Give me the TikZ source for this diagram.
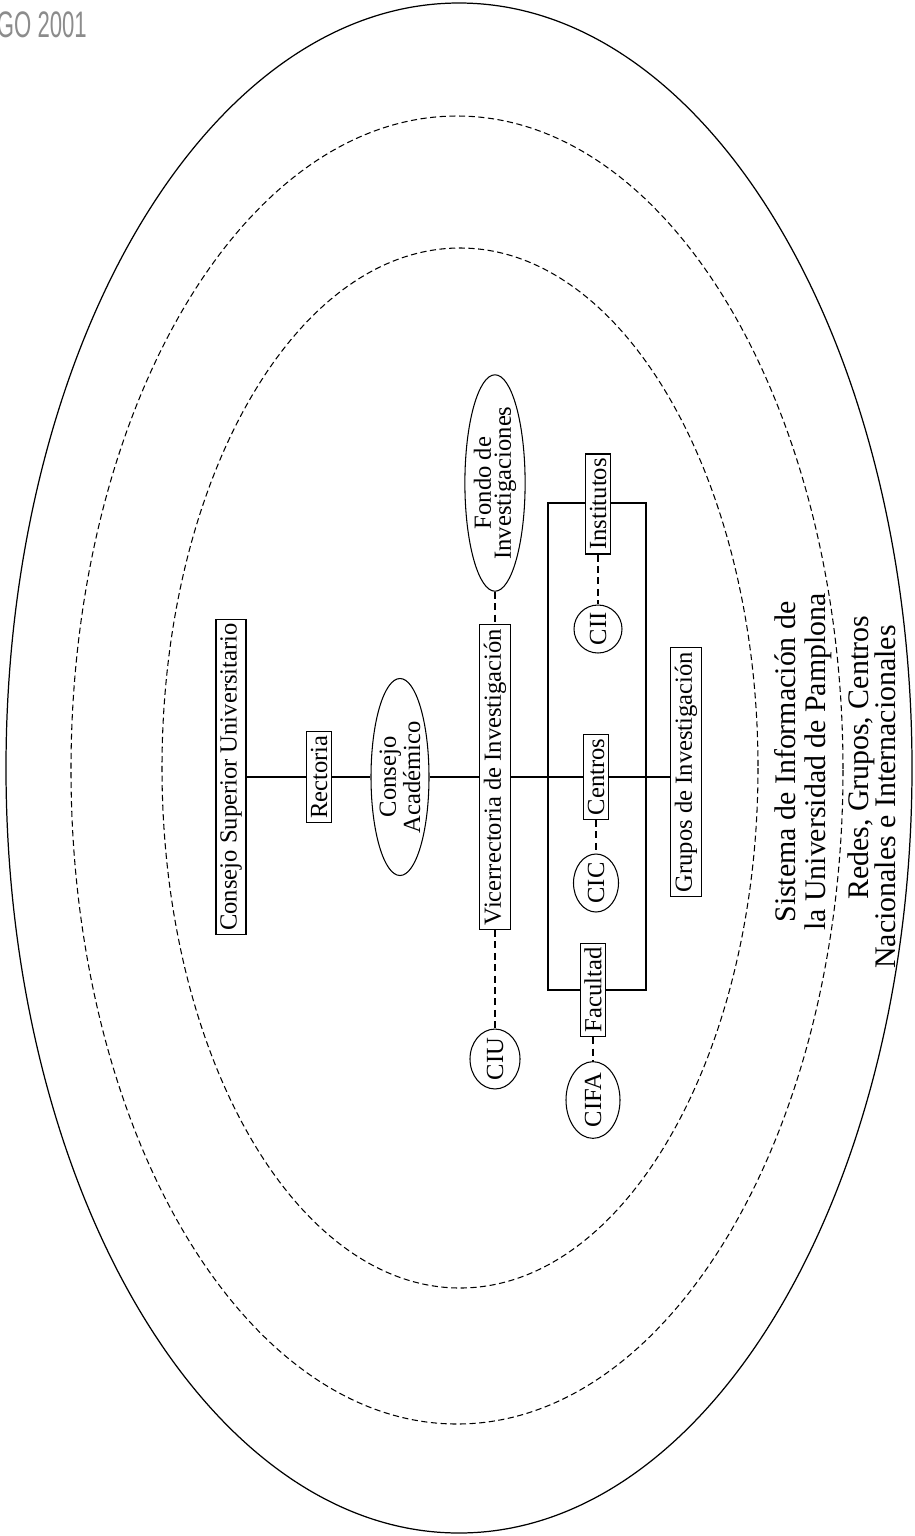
\documentclass[tikz,border=0pt]{standalone}
\usepackage{fontspec}
\setmainfont{Liberation Serif}
\newfontfamily\stampfont{Liberation Sans}
\usetikzlibrary{shapes.geometric}
\begin{document}
\begin{tikzpicture}[x=0.2mm,y=-0.2mm,
  orgbox/.style={draw, fill=white, rotate=90, line width=0.6pt, inner xsep=2.4pt, inner ysep=2.4pt, font=\fontsize{14}{14}\selectfont},
  orgoval/.style={draw, fill=white, ellipse, rotate=90, line width=0.6pt, inner sep=0pt, align=center, font=\fontsize{14}{11.5}\selectfont},
  ring/.style={line width=0.6pt, dash pattern=on 3.5pt off 2pt},
  solidring/.style={line width=0.7pt},
  link/.style={line width=0.6pt},
  dlink/.style={line width=0.6pt, dash pattern=on 4pt off 2.5pt},
  bigtext/.style={rotate=90, anchor=base, inner sep=0pt, font=\fontsize{17}{17}\selectfont},
  stamp/.style={anchor=base east, inner sep=0pt, text=black!45, font=\stampfont\fontsize{21}{21}\selectfont, xscale=0.6}]

\useasboundingbox (0,0) rectangle (915,1536);

% rings
\draw[solidring] (459,768) ellipse [x radius=453, y radius=765];
\draw[ring] (457,770) ellipse [x radius=386, y radius=654];
\draw[ring] (460,768) ellipse [x radius=298, y radius=520];

% bracket frame
\draw[link] (548,503) rectangle (646,990);

% nodes
\node[orgbox] (csu) at (231,777) {Consejo Superior Universitario};
\node[orgbox] (rec) at (319,777) {Rectoria};
\node[orgoval, minimum width=39.4mm, minimum height=11.6mm] (ca) at (400,777) {Consejo\\Académico};
\node[orgbox] (vice) at (495,777) {Vicerrectoria de Investigación};
\node[orgoval, minimum width=39.4mm, minimum height=11.4mm] (fondo) at (495,483) {Fondo de\\Investigaciones};
\node[orgoval, minimum width=11.6mm, minimum height=10mm] (ciu) at (495,1059) {CIU};
\node[orgbox] (inst) at (598,504) {Institutos};
\node[orgoval, minimum width=9.6mm, minimum height=9.6mm] (cii) at (598,629) {CII};
\node[orgbox] (cent) at (596,777) {Centros};
\node[orgoval, minimum width=11.4mm, minimum height=9mm] (cic) at (596,883) {CIC};
\node[orgbox] (fac) at (593,990) {Facultad};
\node[orgoval, minimum width=14mm, minimum height=10.8mm] (cifa) at (593,1100) {CIFA};
\node[orgbox] (grp) at (686,772) {Grupos de Investigación};

% spine
\draw[link] (csu) -- (rec);
\draw[link] (rec) -- (ca);
\draw[link] (ca) -- (vice);
\draw[link] (vice) -- (cent);
\draw[link] (cent) -- (cent -| grp.north);

% dashed links
\draw[dlink] (fondo) -- (vice);
\draw[dlink] (vice) -- (ciu);
\draw[dlink] (inst) -- (cii);
\draw[dlink] (cent) -- (cic);
\draw[dlink] (fac) -- (cifa);

% texts in the rings
\node[bigtext] (sis1) at (795,762) {Sistema de Información de};
\node[bigtext] (sis2) at (825,762) {la Universidad de Pamplona};
\node[bigtext] (red1) at (868,758) {Redes, Grupos, Centros};
\node[bigtext] (red2) at (895,797) {Nacionales e Internacionales};

% stamp
\node[stamp] (stp) at (87,37) {GO 2001};
\end{tikzpicture}
\end{document}
